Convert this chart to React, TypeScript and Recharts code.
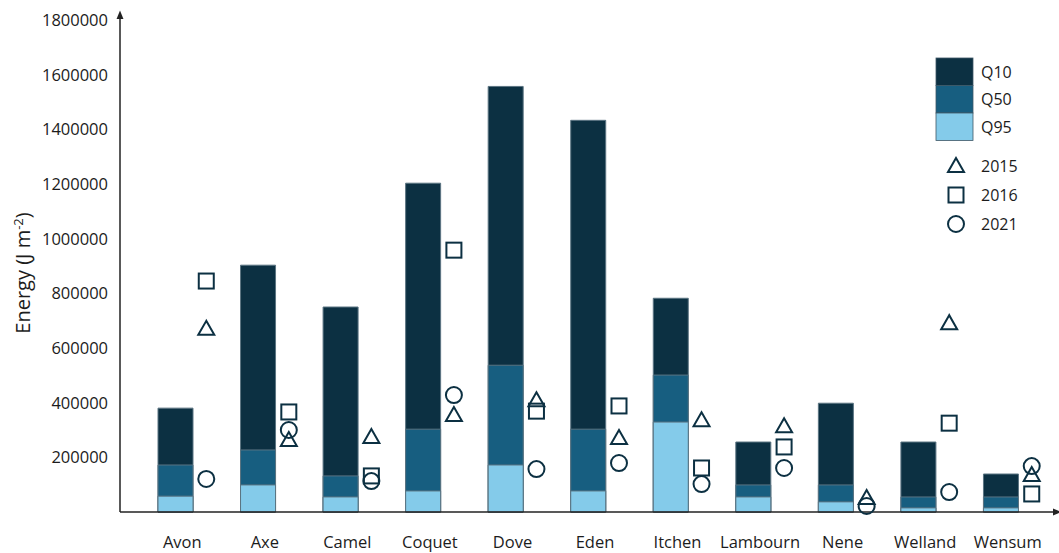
import React from 'react';
import { Bar, ComposedChart, Legend, Scatter, XAxis, YAxis } from 'recharts';

const rivers = ['Avon', 'Axe', 'Camel', 'Coquet', 'Dove', 'Eden', 'Itchen', 'Lambourn', 'Nene', 'Welland', 'Wensum'];
const q10 = [380000, 903000, 750000, 1203000, 1557000, 1433000, 782000, 256000, 398000, 256000, 139000];
const q50 = [172000, 227000, 132000, 303000, 537000, 303000, 501000, 99000, 99000, 55000, 55000];
const q95 = [58000, 99000, 55000, 77000, 172000, 77000, 329000, 55000, 37000, 15000, 15000];
const y2015 = [670000, 263000, 274000, 355000, 409000, 271000, 336000, 314000, 51000, 691000, 135000];
const y2016 = [845000, 366000, 132000, 958000, 369000, 388000, 161000, 238000, null, 325000, 66000];
const y2021 = [121000, 300000, 113000, 428000, 157000, 179000, 102000, 161000, 22000, 73000, 168000];
const yTicks = [200000, 400000, 600000, 800000, 1000000, 1200000, 1400000, 1600000, 1800000];

const data = rivers.map((river, i) => ({
  river,
  q10: q10[i],
  q50: q50[i],
  q95: q95[i],
  y2015: y2015[i],
  y2016: y2016[i],
  y2021: y2021[i],
}));

const DARK = '#0c3042';
const MID = '#175e80';
const LIGHT = '#84cbea';
const BAR_EDGE = '#5b7482';
const TEXT = '#1c1c1c';
const FONT = '"Open Sans", sans-serif';
const MARKER_DX = 31;

type Kind = 'triangle' | 'square' | 'circle';

function drawMarker(kind: Kind, x: number, y: number) {
  const common = { fill: 'none', stroke: DARK, strokeWidth: 2 };
  if (kind === 'triangle') {
    return <polygon points={`${x},${y - 8} ${x - 8},${y + 6} ${x + 8},${y + 6}`} {...common} strokeLinejoin="miter" />;
  }
  if (kind === 'square') {
    return <rect x={x - 7.5} y={y - 7.5} width={15} height={15} {...common} />;
  }
  return <circle cx={x} cy={y} r={8} {...common} />;
}

function markerShape(kind: Kind, key: string) {
  return (props: any) => {
    const { cx, cy, payload } = props;
    if (payload == null || payload[key] == null || cx == null || cy == null || Number.isNaN(cy)) {
      return <g />;
    }
    return <g>{drawMarker(kind, cx + MARKER_DX, cy)}</g>;
  };
}

const barLegend = [
  { name: 'Q10', color: DARK },
  { name: 'Q50', color: MID },
  { name: 'Q95', color: LIGHT },
];
const markerLegend: { name: string; kind: Kind }[] = [
  { name: '2015', kind: 'triangle' },
  { name: '2016', kind: 'square' },
  { name: '2021', kind: 'circle' },
];

function renderLegend() {
  return (
    <svg width={131} height={190} style={{ fontFamily: FONT }}>
      {barLegend.map((item, i) => (
        <g key={item.name}>
          <rect x={8} y={8 + i * 27.5} width={37} height={27.5} fill={item.color} stroke="#3f5866" strokeWidth={0.8} />
          <text x={53} y={22 + i * 27.5} dy="0.35em" fontSize={16} fill={TEXT}>
            {item.name}
          </text>
        </g>
      ))}
      {markerLegend.map((item, i) => (
        <g key={item.name}>
          {drawMarker(item.kind, 28, 116 + i * 29)}
          <text x={53} y={116 + i * 29} dy="0.35em" fontSize={16} fill={TEXT}>
            {item.name}
          </text>
        </g>
      ))}
    </svg>
  );
}

function YTitle() {
  const cy = 273;
  const cx = 23;
  return (
    <text x={cx} y={cy} transform={`rotate(-90 ${cx} ${cy})`} textAnchor="middle" dy="0.35em" fontSize={20} fill={TEXT} fontFamily={FONT}>
      Energy (J m<tspan dy={-7} fontSize={13}>-2</tspan>
      <tspan dy={7}>)</tspan>
    </text>
  );
}

const xPadding = { left: 14, right: 16 };

export default function App() {
  return (
    <div style={{ position: 'absolute', left: 0, top: 0, width: 1059, height: 553, background: '#fff', fontFamily: FONT }}>
      <ComposedChart width={1059} height={553} data={data} margin={{ top: 14, right: 1, bottom: 0, left: 0 }}>
        <defs>
          <marker
            id="axisArrow"
            viewBox="0 0 10 10"
            refX="6"
            refY="5"
            markerWidth="9"
            markerHeight="9"
            markerUnits="userSpaceOnUse"
            orient="auto-start-reverse"
          >
            <path d="M0,1 L10,5 L0,9 z" fill="#222" />
          </marker>
        </defs>
        <XAxis
          xAxisId="q10"
          dataKey="river"
          padding={xPadding}
          interval={0}
          height={41}
          tickLine={false}
          tickSize={22}
          tickMargin={2}
          axisLine={{ stroke: '#222', strokeWidth: 1.5, markerEnd: 'url(#axisArrow)' }}
          tick={{ fill: TEXT, fontSize: 16.5, dx: 7, fontFamily: FONT }}
        />
        <XAxis xAxisId="q50" dataKey="river" padding={xPadding} hide />
        <XAxis xAxisId="q95" dataKey="river" padding={xPadding} hide />
        <YAxis
          domain={[0, 1822000]}
          ticks={yTicks}
          width={120}
          interval={0}
          tickLine={false}
          tickSize={10}
          tickMargin={2}
          axisLine={{ stroke: '#222', strokeWidth: 1.5, markerStart: 'url(#axisArrow)' }}
          tick={{ fill: TEXT, fontSize: 16.5, fontFamily: FONT }}
          label={<YTitle />}
        />
        <Bar xAxisId="q10" dataKey="q10" name="Q10" fill={DARK} stroke={BAR_EDGE} strokeWidth={1} barSize={35} isAnimationActive={false} />
        <Bar xAxisId="q50" dataKey="q50" name="Q50" fill={MID} stroke={BAR_EDGE} strokeWidth={1} barSize={35} isAnimationActive={false} />
        <Bar xAxisId="q95" dataKey="q95" name="Q95" fill={LIGHT} stroke={BAR_EDGE} strokeWidth={1} barSize={35} isAnimationActive={false} />
        <Scatter xAxisId="q10" dataKey="y2015" name="2015" shape={markerShape('triangle', 'y2015')} isAnimationActive={false} />
        <Scatter xAxisId="q10" dataKey="y2016" name="2016" shape={markerShape('square', 'y2016')} isAnimationActive={false} />
        <Scatter xAxisId="q10" dataKey="y2021" name="2021" shape={markerShape('circle', 'y2021')} isAnimationActive={false} />
        <Legend
          layout="horizontal"
          verticalAlign="middle"
          align="center"
          content={renderLegend}
          wrapperStyle={{ position: 'absolute', left: 928, top: 50, width: 131, height: 190 }}
        />
      </ComposedChart>
    </div>
  );
}
